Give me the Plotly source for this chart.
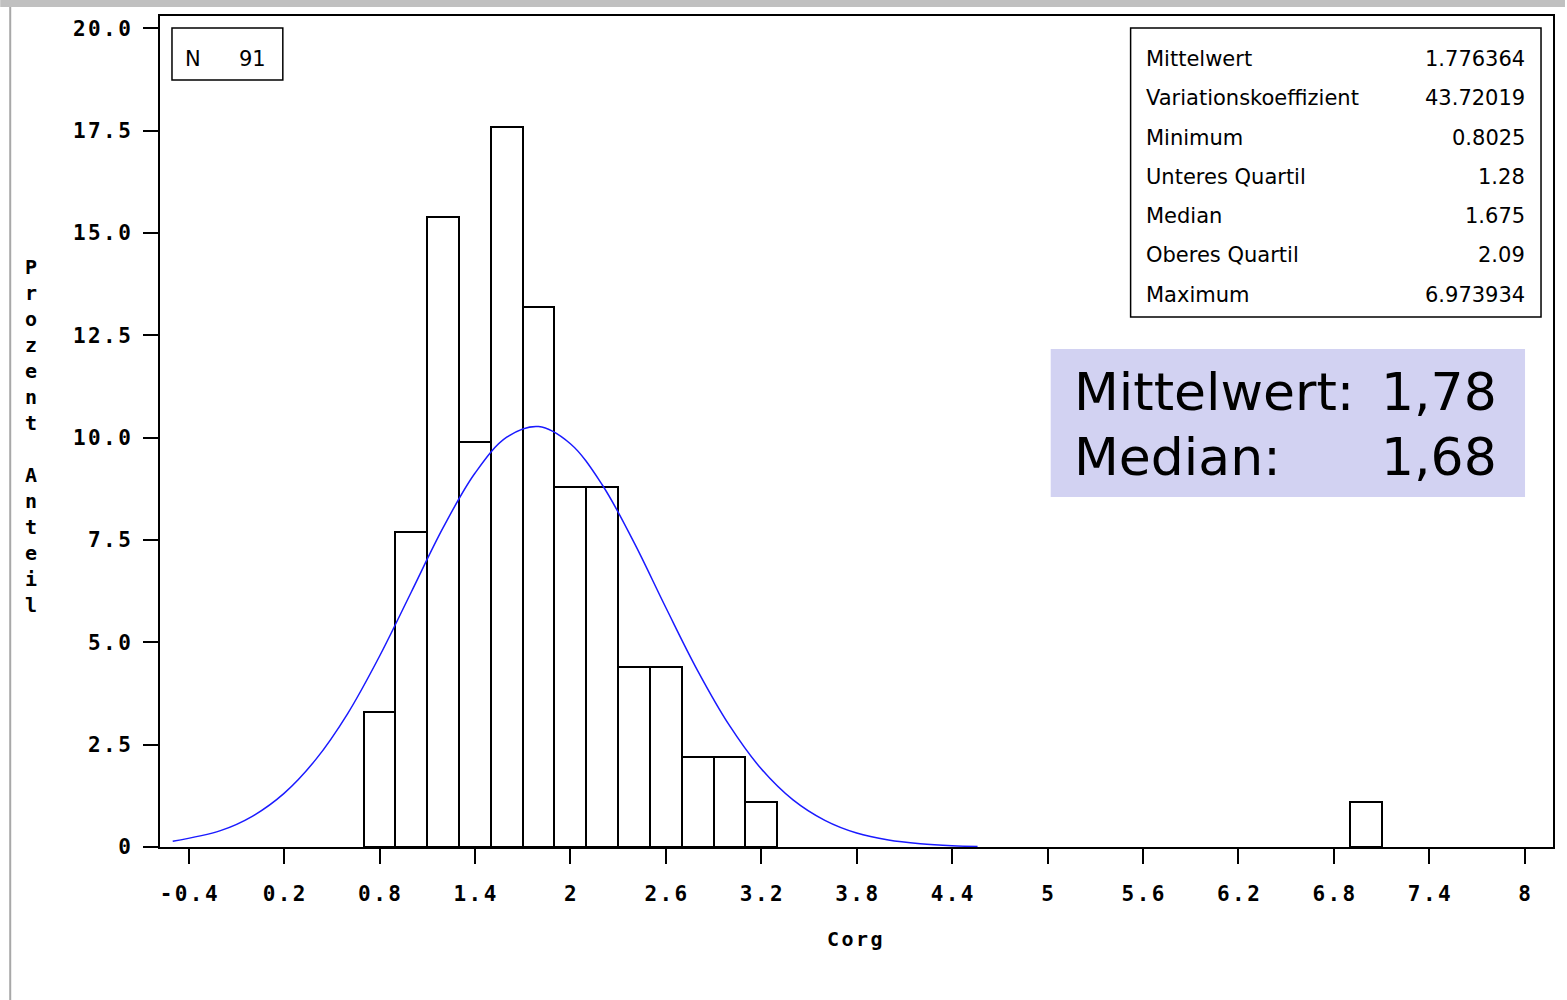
import plotly.graph_objects as go

# ---------------- data ----------------
bin_centers = [0.8, 1.0, 1.2, 1.4, 1.6, 1.8, 2.0, 2.2, 2.4, 2.6, 2.8, 3.0, 3.2, 7.0]
percent = [3.30, 7.69, 15.38, 9.89, 17.58, 13.19, 8.79, 8.79, 4.40, 4.40, 2.20, 2.20, 1.10, 1.10]
bin_width = 0.2

curve_x = [-0.5, -0.2, 0.0, 0.2, 0.4, 0.6, 0.8, 1.0, 1.2, 1.4, 1.6, 1.8, 2.0, 2.2,
           2.4, 2.6, 2.8, 3.0, 3.2, 3.4, 3.6, 3.8, 4.0, 4.2, 4.4, 4.56]
curve_y = [0.14, 0.40, 0.75, 1.31, 2.14, 3.26, 4.66, 6.23, 7.80, 9.13, 10.01, 10.27, 9.85, 8.85,
           7.44, 5.85, 4.31, 2.97, 1.91, 1.15, 0.65, 0.34, 0.17, 0.08, 0.03, 0.01]

x_tickvals = [-0.4, 0.2, 0.8, 1.4, 2.0, 2.6, 3.2, 3.8, 4.4, 5.0, 5.6, 6.2, 6.8, 7.4, 8.0]
x_ticktext = ["-0.4", "0.2", "0.8", "1.4", "2", "2.6", "3.2", "3.8", "4.4", "5", "5.6", "6.2", "6.8", "7.4", "8"]
y_tickvals = [0, 2.5, 5.0, 7.5, 10.0, 12.5, 15.0, 17.5, 20.0]
y_ticktext = ["0", "2.5", "5.0", "7.5", "10.0", "12.5", "15.0", "17.5", "20.0"]

stat_labels = ["Mittelwert", "Variationskoeffizient", "Minimum", "Unteres Quartil",
               "Median", "Oberes Quartil", "Maximum"]
stat_values = ["1.776364", "43.72019", "0.8025", "1.28", "1.675", "2.09", "6.973934"]

n_label = "N"
n_value = "91"
x_title = "Corg"
y_title = "Prozent Anteil"
note_labels = ["Mittelwert:", "Median:"]
note_values = ["1,78", "1,68"]

# ---------------- layout helpers ----------------
L, R, T, B = 160, 1555, 16, 847
W, H = 1567, 1000


def fx(px):
    return (px - L) / (R - L)


def fy(py):
    return (B - py) / (B - T)


GAP = "<span style='font-size:4px'> </span>"


def spaced(s):
    return GAP.join(s)


mono = dict(family="DejaVu Sans Mono", size=21, color="black", weight="bold")
sans = dict(family="DejaVu Sans", size=21, color="black")

fig = go.Figure()
fig.add_trace(go.Bar(
    x=bin_centers, y=percent, width=[bin_width] * len(bin_centers),
    marker=dict(color="white", line=dict(color="black", width=2)),
    hoverinfo="x+y", showlegend=False,
))
fig.add_trace(go.Scatter(
    x=curve_x, y=curve_y, mode="lines", line=dict(color="#1a1aff", width=1.5, shape="spline"),
    showlegend=False,
))

shapes = [
    dict(type="rect", xref="paper", yref="paper", x0=fx(0), x1=fx(W), y0=fy(0), y1=fy(7),
         fillcolor="#c0c0c0", line=dict(width=0), layer="above"),
    dict(type="line", xref="paper", yref="paper", x0=fx(10), x1=fx(10), y0=fy(7), y1=fy(W),
         line=dict(color="#a8a8a8", width=2)),
    dict(type="rect", xref="paper", yref="paper", x0=fx(172), x1=fx(283), y0=fy(28), y1=fy(80),
         line=dict(color="black", width=1.5), fillcolor="rgba(0,0,0,0)"),
    dict(type="rect", xref="paper", yref="paper", x0=fx(1132), x1=fx(1543), y0=fy(28), y1=fy(317),
         line=dict(color="black", width=1.5), fillcolor="white"),
    dict(type="rect", xref="paper", yref="paper", x0=fx(1052), x1=fx(1527), y0=fy(349), y1=fy(497),
         line=dict(width=0), fillcolor="#d2d2f2"),
]

annotations = []
# N box
annotations.append(dict(xref="paper", yref="paper", x=fx(183), y=fy(59), text=n_label, showarrow=False,
                        xanchor="left", yanchor="middle", font=sans))
annotations.append(dict(xref="paper", yref="paper", x=fx(268), y=fy(59), text=n_value, showarrow=False,
                        xanchor="right", yanchor="middle", font=sans))
# stats box
for i, (lab, val) in enumerate(zip(stat_labels, stat_values)):
    yy = 59 + i * 39.3
    annotations.append(dict(xref="paper", yref="paper", x=fx(1145), y=fy(yy), text=lab, showarrow=False,
                            xanchor="left", yanchor="middle", font=sans))
    annotations.append(dict(xref="paper", yref="paper", x=fx(1529), y=fy(yy), text=val, showarrow=False,
                            xanchor="right", yanchor="middle", font=sans))
# highlighted note
big = dict(family="DejaVu Sans", size=52, color="black")
for i, (lab, val) in enumerate(zip(note_labels, note_values)):
    yy = 392 + i * 65
    annotations.append(dict(xref="paper", yref="paper", x=fx(1073), y=fy(yy), text=lab, showarrow=False,
                            xanchor="left", yanchor="middle", font=big))
    annotations.append(dict(xref="paper", yref="paper", x=fx(1501), y=fy(yy), text=val, showarrow=False,
                            xanchor="right", yanchor="middle", font=big))
# axis titles
annotations.append(dict(xref="paper", yref="paper", x=fx(855), y=fy(939), text=spaced(x_title), showarrow=False,
                        xanchor="center", yanchor="middle", font=dict(mono, size=20)))
annotations.append(dict(xref="paper", yref="paper", x=fx(31), y=fy(436),
                        text="<br>".join(c if c != " " else "&nbsp;" for c in y_title), showarrow=False,
                        xanchor="center", yanchor="middle", font=dict(mono, size=20)))

fig.update_layout(
    width=W, height=H,
    margin=dict(l=L, r=W - R, t=T, b=H - B, pad=0),
    paper_bgcolor="white", plot_bgcolor="white",
    bargap=0,
    shapes=shapes, annotations=annotations,
    showlegend=False,
)
fig.update_xaxes(
    range=[-0.580, 8.178], tickvals=x_tickvals, ticktext=[spaced(t) for t in x_ticktext],
    showgrid=False, zeroline=False, showline=True, linecolor="black", linewidth=2, mirror=True,
    ticks="outside", ticklen=15, tickwidth=2, tickcolor="black", tickfont=mono,
    ticklabelstandoff=12,
)
fig.update_yaxes(
    range=[0, 20.3], tickvals=y_tickvals, ticktext=[spaced(t) for t in y_ticktext],
    showgrid=False, zeroline=False, showline=True, linecolor="black", linewidth=2, mirror=True,
    ticks="outside", ticklen=15, tickwidth=2, tickcolor="black", tickfont=mono,
    ticklabelstandoff=8,
)

fig.write_html("out.html", config={"displayModeBar": False},
               post_script="document.body.style.margin='0';document.body.style.overflow='hidden';")
